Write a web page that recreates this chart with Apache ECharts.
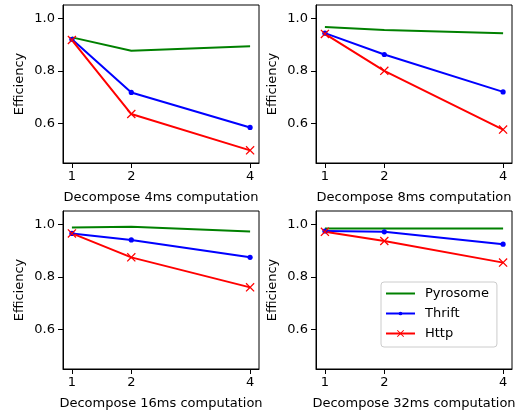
<!DOCTYPE html>
<html>
<head>
<meta charset="utf-8">
<script src="https://cdn.jsdelivr.net/npm/echarts@6/dist/echarts.min.js"></script>
<style>
  html, body { margin: 0; padding: 0; background: #fff; }
  #chart { width: 520px; height: 412px; }
</style>
</head>
<body>
<div id="chart"></div>
<script>
// Parallel efficiency when a fixed computation is split into 1, 2 or 4 parts
const splits = [1, 2, 4];
const computeMs = [4, 8, 16, 32];
const yTicks = [0.6, 0.8, 1.0];

// One row per computation size (4ms, 8ms, 16ms, 32ms), one value per split
const pyrosome = [
  [0.927, 0.876, 0.893],
  [0.966, 0.955, 0.943],
  [0.987, 0.990, 0.972],
  [0.984, 0.984, 0.984]
];
const thrift = [
  [0.920, 0.718, 0.585],
  [0.943, 0.862, 0.720],
  [0.965, 0.940, 0.874],
  [0.974, 0.971, 0.924]
];
const http = [
  [0.917, 0.636, 0.498],
  [0.940, 0.800, 0.577],
  [0.965, 0.874, 0.760],
  [0.971, 0.936, 0.854]
];

const FONT = 'DejaVu Sans';
// Marker shapes: the two zero-length segments pin a 10x10 box so the
// visible glyph keeps its proportion inside whatever size it is drawn at.
const boxOnly = 'M0,0L0,0M10,10L10,10';
const noMarker = 'path://' + boxOnly;
const dotMarker = 'path://' + boxOnly + 'M7.6,5A2.6,2.6,0,1,1,2.4,5A2.6,2.6,0,1,1,7.6,5Z';
const crossMarker = 'path://M0,1L1,0L5,4L9,0L10,1L6,5L10,9L9,10L5,6L1,10L0,9L4,5Z';

const panels = [
  { left: 63, top: 5 },
  { left: 316, top: 5 },
  { left: 63, top: 211 },
  { left: 316, top: 211 }
];

const grids = panels.map(p => ({
  left: p.left, top: p.top, width: 196, height: 158,
  show: true, borderColor: '#000', borderWidth: 1, backgroundColor: 'transparent'
}));

const xAxes = computeMs.map((ms, i) => ({
  type: 'value', gridIndex: i, min: 0.85, max: 4.15,
  name: 'Decompose ' + ms + 'ms computation',
  nameLocation: 'middle', nameGap: 28,
  nameTextStyle: { fontFamily: FONT, fontSize: 13, color: '#000' },
  axisLine: { show: true, onZero: false, lineStyle: { color: '#000', width: 1 } },
  axisTick: { show: true, length: 5, customValues: splits, lineStyle: { color: '#000' } },
  axisLabel: { customValues: splits, margin: 7, fontFamily: FONT, fontSize: 13, color: '#000' },
  splitLine: { show: false }
}));

const yAxes = computeMs.map((ms, i) => ({
  type: 'value', gridIndex: i, min: 0.45, max: 1.05,
  name: 'Efficiency', nameLocation: 'middle', nameGap: 37, nameRotate: 90,
  nameTextStyle: { fontFamily: FONT, fontSize: 13, color: '#000' },
  axisLine: { show: true, onZero: false, lineStyle: { color: '#000', width: 1 } },
  axisTick: { show: true, length: 5, customValues: yTicks, lineStyle: { color: '#000' } },
  axisLabel: {
    customValues: yTicks, margin: 8, fontFamily: FONT, fontSize: 13, color: '#000',
    formatter: v => Number(v).toFixed(1)
  },
  splitLine: { show: false }
}));

const toPoints = vals => splits.map((s, k) => [s, vals[k]]);

const series = [];
computeMs.forEach((ms, i) => {
  series.push({
    name: 'Pyrosome', type: 'line', xAxisIndex: i, yAxisIndex: i,
    data: toPoints(pyrosome[i]), symbol: noMarker, symbolSize: 10, showSymbol: false,
    lineStyle: { color: '#008000', width: 2 }, itemStyle: { color: '#008000', borderWidth: 0 }
  });
  series.push({
    name: 'Thrift', type: 'line', xAxisIndex: i, yAxisIndex: i,
    data: toPoints(thrift[i]), symbol: dotMarker, symbolSize: 10, showSymbol: true,
    lineStyle: { color: '#0000ff', width: 2 }, itemStyle: { color: '#0000ff', borderWidth: 0 }
  });
  series.push({
    name: 'Http', type: 'line', xAxisIndex: i, yAxisIndex: i,
    data: toPoints(http[i]), symbol: crossMarker, symbolSize: 9, showSymbol: true,
    lineStyle: { color: '#ff0000', width: 2 }, itemStyle: { color: '#ff0000', borderWidth: 0 }
  });
});

const chart = echarts.init(document.getElementById('chart'), null, { renderer: 'canvas' });
chart.setOption({
  animation: false,
  backgroundColor: '#fff',
  grid: grids,
  xAxis: xAxes,
  yAxis: yAxes,
  legend: {
    data: ['Pyrosome', 'Thrift', 'Http'],
    orient: 'vertical', left: 381, top: 282,
    padding: [4, 8, 6, 4], itemGap: 5, itemWidth: 29, itemHeight: 9,
    backgroundColor: 'rgba(255,255,255,0.8)', borderColor: '#cccccc', borderWidth: 1, borderRadius: 3,
    textStyle: { fontFamily: FONT, fontSize: 13, color: '#000', padding: [0, 0, 0, 5], lineHeight: 15 },
    selectedMode: false
  },
  series: series
});
</script>
</body>
</html>
